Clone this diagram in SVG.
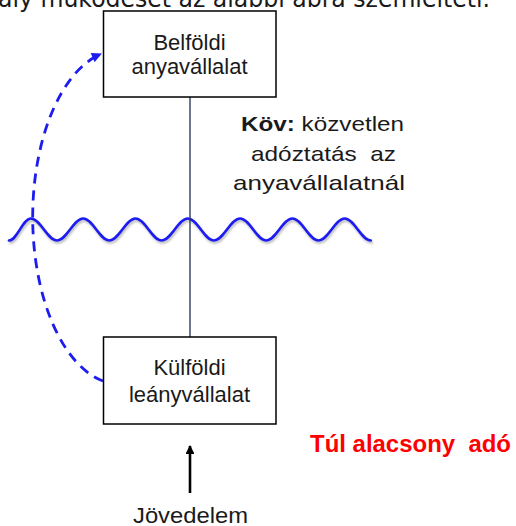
<svg xmlns="http://www.w3.org/2000/svg" width="516" height="526" viewBox="0 0 516 526">
  <defs>
    <style>
      .box { fill: #ffffff; stroke: #000000; stroke-width: 1.5; }
      .lbl { font-family: "Liberation Sans", Arial, sans-serif; font-size: 22px; fill: #1a1a1a; text-anchor: middle; }
      .note { font-family: "Liberation Sans", Arial, sans-serif; font-size: 21px; fill: #1a1a1a; }
      .wave { fill: none; stroke: #1c1cf0; stroke-width: 2.7; stroke-linecap: round; }
      .link { stroke: #2f3d5c; stroke-width: 1.4; }
      .flow { fill: none; stroke: #1c1cf0; stroke-width: 2.8; stroke-dasharray: 10 7; }
      .income { stroke: #000000; stroke-width: 2.6; }
    </style>
    <filter id="softShadow" x="-5%" y="-40%" width="110%" height="180%">
      <feDropShadow dx="1" dy="2" stdDeviation="1" flood-color="#808080" flood-opacity="0.55"/>
    </filter>
    <marker id="blueHead" viewBox="0 0 10 10" refX="9" refY="5" markerWidth="4" markerHeight="3.6" markerUnits="strokeWidth" orient="auto">
      <path d="M0,0 L10,5 L0,10 Z" fill="#1c1cf0"/>
    </marker>
    <marker id="blackHead" viewBox="0 0 10 10" refX="9" refY="5" markerWidth="4.4" markerHeight="3.4" markerUnits="strokeWidth" orient="auto">
      <path d="M0,0 L10,5 L0,10 Z" fill="#000000"/>
    </marker>
  </defs>

  <rect width="516" height="526" fill="#ffffff"/>

  <!-- clipped heading line -->
  <text x="-2" y="6.5" font-family="'DejaVu Sans', Verdana, sans-serif" font-size="24" fill="#1a1a1a" textLength="492" lengthAdjust="spacingAndGlyphs">ály működését az alábbi ábra szemlélteti.</text>

  <!-- border wave -->
  <path class="wave" filter="url(#softShadow)" d="M9,240.5 C17,240.5 23,218.5 30.8,218.5 C40.3,218.5 47.5,240.5 57,240.5 C66.5,240.5 73.7,218.5 83.2,218.5 C92.7,218.5 99.8,240.5 109.3,240.5 C118.8,240.5 126,218.5 135.5,218.5 C145,218.5 152.1,240.5 161.6,240.5 C171.1,240.5 178.3,218.5 187.8,218.5 C197.3,218.5 204.4,240.5 213.9,240.5 C223.4,240.5 230.6,218.5 240.1,218.5 C249.6,218.5 256.7,240.5 266.2,240.5 C275.7,240.5 282.9,218.5 292.4,218.5 C301.9,218.5 309,240.5 318.5,240.5 C328,240.5 335.2,218.5 344.7,218.5 C354.2,218.5 361.3,240.5 370.8,240.5"/>

  <!-- connectors -->
  <g id="connectors">
    <line class="link" x1="190" y1="97" x2="190" y2="337"/>
    <path class="flow" d="M103,381 A87,167 0 0 1 101,54" marker-end="url(#blueHead)"/>
    <line class="income" x1="190" y1="493" x2="190" y2="446" marker-end="url(#blackHead)"/>
  </g>

  <g id="parent">
    <rect class="box" x="103.5" y="11" width="172.5" height="86"/>
    <text class="lbl" x="189.5" y="49.5">Belföldi</text>
    <text class="lbl" x="189.5" y="74">anyavállalat</text>
  </g>

  <g id="subsidiary">
    <rect class="box" x="103.5" y="337" width="172.5" height="87"/>
    <text class="lbl" x="189.5" y="375">Külföldi</text>
    <text class="lbl" x="189.5" y="401.5">leányvállalat</text>
  </g>

  <g id="income">
    <text x="133" y="522.5" font-family="'Liberation Sans', Arial, sans-serif" font-size="22" fill="#1a1a1a" textLength="115" lengthAdjust="spacingAndGlyphs">Jövedelem</text>
  </g>

  <g id="note">
    <text class="note" x="241" y="131" textLength="163" lengthAdjust="spacingAndGlyphs"><tspan font-weight="bold">Köv:</tspan> közvetlen</text>
    <text class="note" x="251" y="161" textLength="145" lengthAdjust="spacingAndGlyphs" xml:space="preserve">adóztatás  az</text>
    <text class="note" x="233" y="190" textLength="172" lengthAdjust="spacingAndGlyphs">anyavállalatnál</text>
  </g>

  <g id="warning">
    <text x="310" y="451.5" font-family="'Liberation Sans', Arial, sans-serif" font-size="24.5" font-weight="bold" fill="#ff0000" textLength="201" lengthAdjust="spacingAndGlyphs" xml:space="preserve">Túl alacsony  adó</text>
  </g>
</svg>
